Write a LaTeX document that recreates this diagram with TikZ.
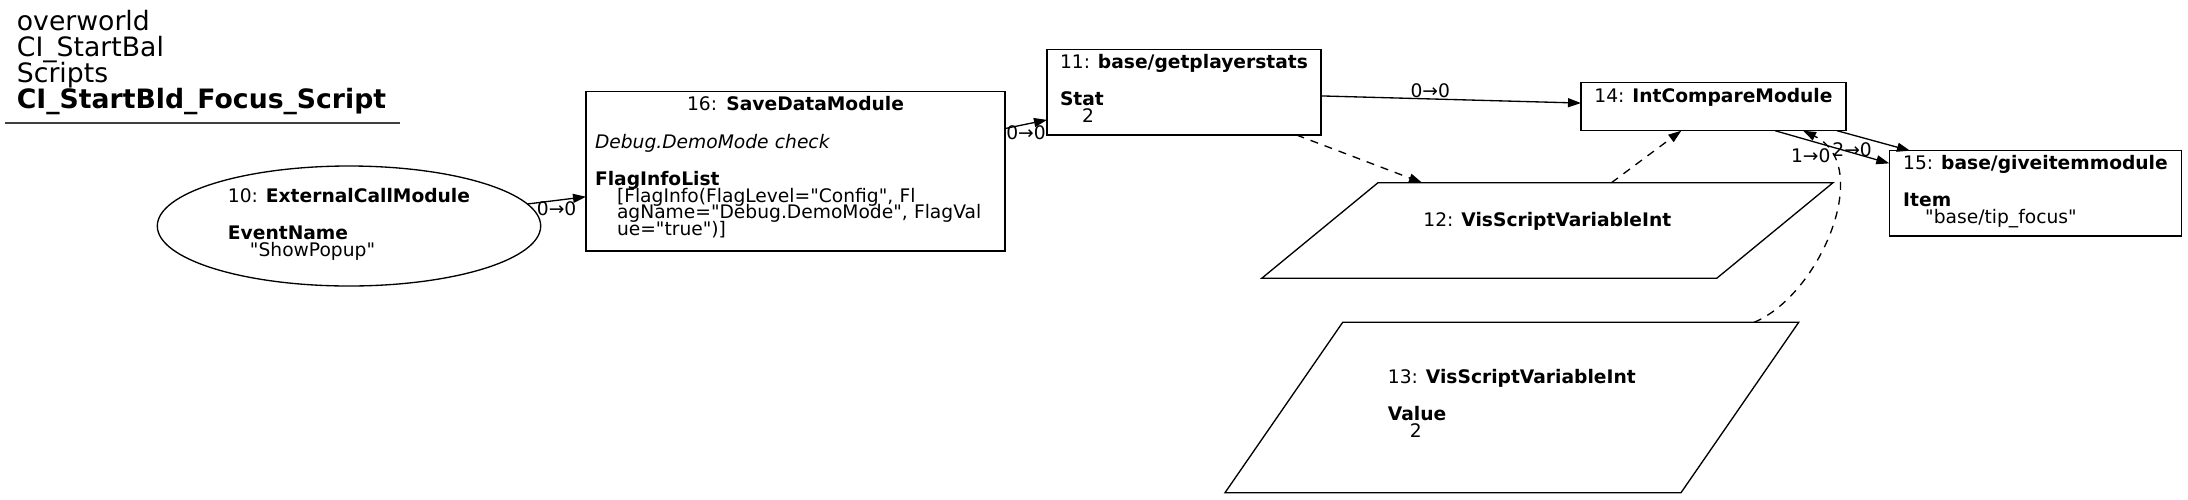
\documentclass[tikz,border=0pt]{standalone}
\usepackage{fontspec}
\setmainfont[Ligatures=TeXOff]{DejaVu Sans}
\usetikzlibrary{arrows.meta,shapes.geometric}

\newcommand\vsfont{\fontsize{18.67}{16.5}\selectfont\lineskiplimit=-50pt\relax}
\newcommand\vstitlefont{\fontsize{26.67}{26.1}\selectfont\lineskiplimit=-50pt\relax}

\tikzset{
  modbox/.style={draw, rectangle, line width=1.4pt, inner sep=0pt, outer sep=0pt, align=left, font=\vsfont},
  callnode/.style={draw, ellipse, line width=1.33pt, inner sep=0pt, outer sep=0pt, align=left, font=\vsfont},
  varnode/.style={rectangle, inner sep=0pt, outer sep=0pt, align=left, font=\vsfont},
  varshape/.style={line width=1.33pt},
  flow/.style={->, line width=1.33pt},
  dataflow/.style={->, line width=1.33pt, dash pattern=on 8pt off 7pt},
  lbl/.style={font=\vsfont, inner sep=1pt},
}

\begin{document}
\begin{tikzpicture}[x=1pt, y=-1pt, >={Triangle[length=13pt,width=9pt]}]
    \useasboundingbox (0,0) rectangle (2188,499);

    % title
    \node[anchor=north west, inner sep=0pt, align=left, font=\vstitlefont] (title) at (16.7,8)
        {\rule{0pt}{22pt}overworld\\CI\_StartBal\\Scripts\\\textbf{CI\_StartBld\_Focus\_Script}};
    \draw[line width=2pt, black!75] (5,122.7) -- (400,122.7);

    % modules
    \node[callnode, minimum width=383.4pt, minimum height=120pt] (n10) at (349,226)
        {\rule{0pt}{15pt}10: \textbf{ExternalCallModule}\\[21pt]\textbf{EventName}\\\hspace*{22pt}"ShowPopup"\rule[-8.4pt]{0pt}{0pt}};
    \node[modbox, text width=401pt, minimum width=419pt] (n16) at (795.5,171.15)
        {\rule{0pt}{19.4pt}\makebox[\linewidth]{16: \textbf{SaveDataModule}}\\[21pt]
         \textit{Debug.DemoMode check}\\[21pt]
         \textbf{FlagInfoList}\\
         \hspace*{22pt}[FlagInfo(FlagLevel="Config", Fl\\
         \hspace*{22pt}agName="Debug.DemoMode", FlagVal\\
         \hspace*{22pt}ue="true")]\rule[-15.8pt]{0pt}{0pt}};
    \node[modbox, minimum width=274pt] (n11) at (1184,92.15)
        {\rule{0pt}{19pt}11: \textbf{base/getplayerstats}\\[21pt]\textbf{Stat}\\\hspace*{22pt}2\rule[-12.7pt]{0pt}{0pt}};
    \node[modbox, minimum width=265pt] (n14) at (1713.5,106.7)
        {\rule{0pt}{19.6pt}14: \textbf{IntCompareModule}\rule[-28.4pt]{0pt}{0pt}};
    \node[modbox, minimum width=292.4pt] (n15) at (2035.5,193.35)
        {\rule{0pt}{18.6pt}15: \textbf{base/giveitemmodule}\\[21pt]\textbf{Item}\\\hspace*{22pt}"base/tip\_focus"\rule[-12.7pt]{0pt}{0pt}};

    % variables
    \node[varnode, minimum width=455pt, minimum height=95.6pt] (n12) at (1547.35,230.5)
        {\rule{0pt}{15pt}12: \textbf{VisScriptVariableInt}\rule[-24pt]{0pt}{0pt}};
    \node[varnode, minimum width=456pt, minimum height=170.4pt] (n13) at (1511.85,407.5)
        {\rule{0pt}{15pt}13: \textbf{VisScriptVariableInt}\\[21pt]\textbf{Value}\\\hspace*{22pt}2\rule[-9.4pt]{0pt}{0pt}};
    \draw[varshape] ([xshift=58.15pt]n12.north west) -- ([xshift=58.15pt]n12.north east)
        -- ([xshift=-58.15pt]n12.south east) -- ([xshift=-58.15pt]n12.south west) -- cycle;
    \draw[varshape] ([xshift=58.85pt]n13.north west) -- ([xshift=58.85pt]n13.north east)
        -- ([xshift=-58.85pt]n13.south east) -- ([xshift=-58.85pt]n13.south west) -- cycle;

    % links
    \draw[flow] (n10) -- (n16) node[lbl, midway, below] {0→0};
    \draw[flow] (n16) -- (n11) node[lbl, midway, below] {0→0};
    \draw[flow] (n11) -- (n14) node[lbl, pos=0.42, above] {0→0};
    \draw[dataflow] (n11) -- (n12);
    \draw[dataflow] (n12) -- (n14);
    \draw[dataflow] ([xshift=242.15pt]n13.north) .. controls (1820,295) and (1875,165) .. ([xshift=89.5pt]n14.south);
    \draw[flow] ([xshift=61.5pt]n14.south) -- ([yshift=30pt]n15.west) node[lbl, midway, below left] {1→0};
    \draw[flow] ([xshift=123.5pt]n14.south) -- ([xshift=-125.5pt]n15.north) node[lbl, midway, below left] {2→0};
\end{tikzpicture}
\end{document}
